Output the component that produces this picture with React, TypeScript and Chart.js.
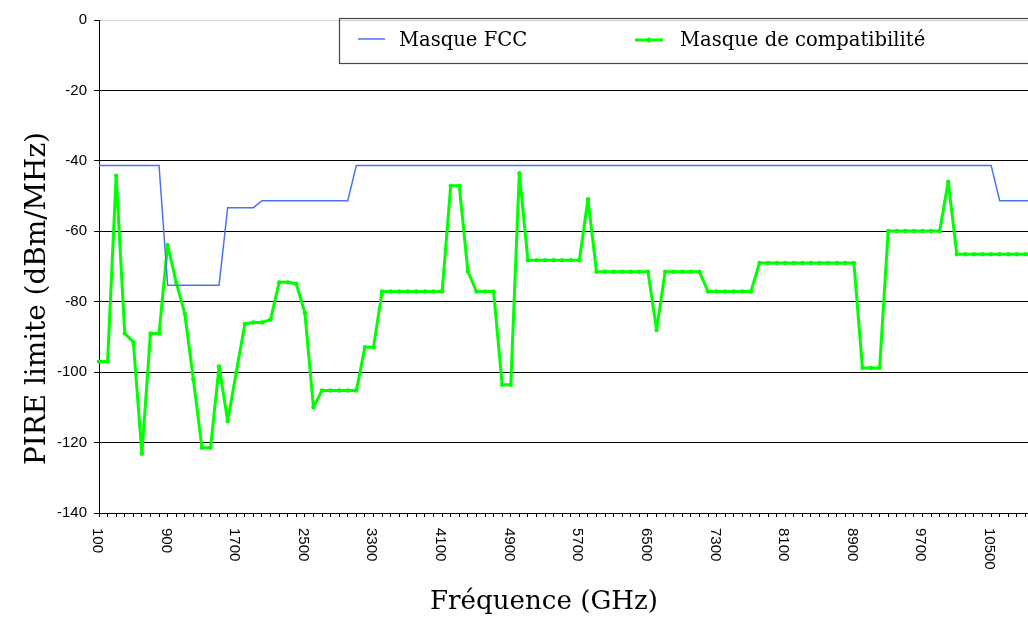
import React, { useEffect, useRef } from "react";
import { Chart, registerables } from "chart.js";

Chart.register(...registerables);

// Frequencies (category axis)
const frequencies = [
  100, 200, 300, 400, 500, 600, 700, 800, 900, 1000,
  1100, 1200, 1300, 1400, 1500, 1600, 1700, 1800, 1900, 2000,
  2100, 2200, 2300, 2400, 2500, 2600, 2700, 2800, 2900, 3000,
  3100, 3200, 3300, 3400, 3500, 3600, 3700, 3800, 3900, 4000,
  4100, 4200, 4300, 4400, 4500, 4600, 4700, 4800, 4900, 5000,
  5100, 5200, 5300, 5400, 5500, 5600, 5700, 5800, 5900, 6000,
  6100, 6200, 6300, 6400, 6500, 6600, 6700, 6800, 6900, 7000,
  7100, 7200, 7300, 7400, 7500, 7600, 7700, 7800, 7900, 8000,
  8100, 8200, 8300, 8400, 8500, 8600, 8700, 8800, 8900, 9000,
  9100, 9200, 9300, 9400, 9500, 9600, 9700, 9800, 9900, 10000,
  10100, 10200, 10300, 10400, 10500, 10600, 10700, 10800, 10900, 11000,
];

// Masque FCC (dBm/MHz)
const fccMask = [
  -41.3, -41.3, -41.3, -41.3, -41.3, -41.3, -41.3, -41.3, -75.3, -75.3,
  -75.3, -75.3, -75.3, -75.3, -75.3, -53.3, -53.3, -53.3, -53.3, -51.3,
  -51.3, -51.3, -51.3, -51.3, -51.3, -51.3, -51.3, -51.3, -51.3, -51.3,
  -41.3, -41.3, -41.3, -41.3, -41.3, -41.3, -41.3, -41.3, -41.3, -41.3,
  -41.3, -41.3, -41.3, -41.3, -41.3, -41.3, -41.3, -41.3, -41.3, -41.3,
  -41.3, -41.3, -41.3, -41.3, -41.3, -41.3, -41.3, -41.3, -41.3, -41.3,
  -41.3, -41.3, -41.3, -41.3, -41.3, -41.3, -41.3, -41.3, -41.3, -41.3,
  -41.3, -41.3, -41.3, -41.3, -41.3, -41.3, -41.3, -41.3, -41.3, -41.3,
  -41.3, -41.3, -41.3, -41.3, -41.3, -41.3, -41.3, -41.3, -41.3, -41.3,
  -41.3, -41.3, -41.3, -41.3, -41.3, -41.3, -41.3, -41.3, -41.3, -41.3,
  -41.3, -41.3, -41.3, -41.3, -41.3, -51.3, -51.3, -51.3, -51.3, -51.3,
];

// Masque de compatibilité (dBm/MHz)
const compatMask = [
  -97, -97, -44.2, -89, -91.4, -123.2, -89, -89, -63.9, -74.5,
  -83.4, -102, -121.5, -121.5, -98.4, -113.9, -100, -86.3, -85.9, -85.9,
  -85.1, -74.5, -74.5, -74.9, -83.1, -110, -105.2, -105.2, -105.2, -105.2,
  -105.2, -92.9, -92.9, -77.1, -77.1, -77.1, -77.1, -77.1, -77.1, -77.1,
  -77.1, -47.1, -47.1, -71.4, -77.1, -77.1, -77.1, -103.6, -103.6, -43.5,
  -68.2, -68.2, -68.2, -68.2, -68.2, -68.2, -68.2, -50.9, -71.5, -71.5,
  -71.5, -71.5, -71.5, -71.5, -71.5, -88, -71.5, -71.5, -71.5, -71.5,
  -71.5, -77.1, -77.1, -77.1, -77.1, -77.1, -77.1, -69, -69, -69,
  -69, -69, -69, -69, -69, -69, -69, -69, -69, -98.8,
  -98.8, -98.8, -59.9, -59.9, -59.9, -59.9, -59.9, -59.9, -59.9, -45.9,
  -66.5, -66.5, -66.5, -66.5, -66.5, -66.5, -66.5, -66.5, -66.5, -66.5,
];

// Labelled x ticks
const xTickLabels = [
  "100", "900", "1700", "2500", "3300", "4100", "4900",
  "5700", "6500", "7300", "8100", "8900", "9700", "10500",
];

const seriesNames = ["Masque FCC", "Masque de compatibilité"];
const xTitle = "Fréquence (GHz)";
const yTitle = "PIRE limite (dBm/MHz)";

const BLUE = "#4a72f2";
const GREEN = "#00ff00";
const SERIF = "'DejaVu Serif', 'Liberation Serif', serif";
const SANS = "'Liberation Sans', Arial, sans-serif";

function fitSize(ctx: CanvasRenderingContext2D, text: string, width: number, family: string) {
  ctx.font = `100px ${family}`;
  const w = ctx.measureText(text).width;
  return (100 * width) / w;
}

const decorPlugin = {
  id: "decor",
  afterDraw(chart: any) {
    const ctx: CanvasRenderingContext2D = chart.ctx;
    const xs = chart.scales.x;
    const bottom = chart.chartArea.bottom;
    ctx.save();

    // x tick labels, rotated clockwise
    ctx.fillStyle = "#000";
    ctx.font = `15px ${SANS}`;
    ctx.textAlign = "left";
    ctx.textBaseline = "alphabetic";
    xTickLabels.forEach((lab) => {
      const idx = frequencies.indexOf(Number(lab));
      const px = xs.getPixelForValue(idx);
      ctx.save();
      ctx.translate(px - 6, bottom + 15);
      ctx.rotate(Math.PI / 2);
      ctx.fillText(lab, 0, 0);
      ctx.restore();
    });

    // axis titles
    const xs1 = fitSize(ctx, xTitle, 228, SERIF);
    ctx.font = `${xs1}px ${SERIF}`;
    ctx.fillText(xTitle, 430, 609);

    const ys1 = fitSize(ctx, yTitle, 333, SERIF);
    ctx.save();
    ctx.font = `${ys1}px ${SERIF}`;
    ctx.translate(45, 465);
    ctx.rotate(-Math.PI / 2);
    ctx.fillText(yTitle, 0, 0);
    ctx.restore();

    // legend
    ctx.strokeStyle = "#444";
    ctx.lineWidth = 1.2;
    ctx.strokeRect(339.5, 18.5, 760, 45);

    ctx.strokeStyle = BLUE;
    ctx.lineWidth = 1.5;
    ctx.beginPath();
    ctx.moveTo(358, 39);
    ctx.lineTo(385, 39);
    ctx.stroke();

    ctx.strokeStyle = GREEN;
    ctx.lineWidth = 3;
    ctx.beginPath();
    ctx.moveTo(635, 40);
    ctx.lineTo(663, 40);
    ctx.stroke();
    ctx.fillStyle = GREEN;
    ctx.beginPath();
    ctx.arc(649, 40, 2.5, 0, Math.PI * 2);
    ctx.fill();

    const l1 = fitSize(ctx, seriesNames[0], 130, SERIF);
    const l2 = fitSize(ctx, seriesNames[1], 242, SERIF);
    const ls = (l1 + l2) / 2;
    ctx.fillStyle = "#000";
    ctx.font = `${ls}px ${SERIF}`;
    ctx.fillText(seriesNames[0], 399, 46);
    ctx.fillText(seriesNames[1], 680, 46);

    ctx.restore();
  },
};

export default function App() {
  const ref = useRef<HTMLCanvasElement | null>(null);

  useEffect(() => {
    if (!ref.current) return;
    const chart = new Chart(ref.current, {
      type: "line",
      data: {
        labels: frequencies.map(String),
        datasets: [
          {
            label: seriesNames[0],
            data: fccMask,
            borderColor: BLUE,
            backgroundColor: BLUE,
            borderWidth: 1.5,
            pointRadius: 0,
            tension: 0,
            fill: false,
          },
          {
            label: seriesNames[1],
            data: compatMask,
            borderColor: GREEN,
            backgroundColor: GREEN,
            borderWidth: 3,
            borderJoinStyle: "round",
            borderCapStyle: "round",
            pointRadius: 2.2,
            pointBorderWidth: 0,
            pointBackgroundColor: GREEN,
            tension: 0,
            fill: false,
          },
        ],
      },
      options: {
        responsive: false,
        animation: false,
        events: [],
        layout: { padding: { top: 20, right: 6, bottom: 0, left: 0 } },
        plugins: {
          legend: { display: false },
          tooltip: { enabled: false },
        },
        scales: {
          x: {
            type: "category",
            offset: false,
            grid: {
              drawOnChartArea: false,
              drawTicks: true,
              tickLength: 4,
              color: "#000",
            },
            border: { color: "#000", width: 1 },
            ticks: { display: false, autoSkip: false },
            afterFit: (s: any) => {
              s.height = 107;
            },
          },
          y: {
            min: -140,
            max: 0,
            ticks: {
              stepSize: 20,
              color: "#000",
              padding: 7,
              font: { family: SANS, size: 15 },
            },
            grid: {
              color: (c: any) => (c.tick && c.tick.value === 0 ? "#d0d0d0" : "#000"),
              tickColor: "#000",
              tickLength: 5,
              lineWidth: 1,
            },
            border: { color: "#000", width: 1 },
            afterFit: (s: any) => {
              s.width = 99;
            },
          },
        },
      },
      plugins: [decorPlugin],
    });
    return () => chart.destroy();
  }, []);

  return (
    <div
      style={{
        position: "fixed",
        left: 0,
        top: 0,
        width: 1028,
        height: 620,
        overflow: "hidden",
        background: "#fff",
      }}
    >
      <canvas ref={ref} width={1040} height={620} style={{ display: "block", width: 1040, height: 620 }} />
    </div>
  );
}
